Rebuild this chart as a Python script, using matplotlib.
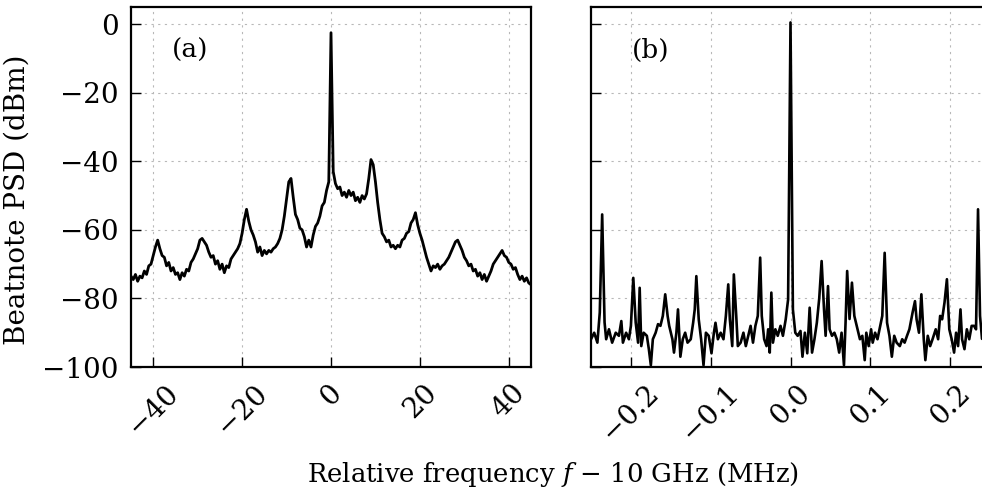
import matplotlib
matplotlib.use("Agg")
import matplotlib.pyplot as plt
import numpy as np

# Panel (a): wide span, 0.5 MHz steps from -45 to 45 MHz
wide_start, wide_stop, wide_step = -45.0, 45.0, 0.5
wide_psd = [
    -73.5, -74.5, -73.0, -75.0, -73.5, -74.0, -72.0, -73.0, -70.5, -70.0,   # -45 .. -40.5
    -67.5, -65.0, -63.0, -65.5, -67.5, -68.0, -70.5, -69.5, -72.0, -71.0,   # -40 .. -35.5
    -73.0, -72.5, -74.5, -72.5, -73.5, -71.5, -72.0, -69.5, -68.5, -67.0,   # -35 .. -30.5
    -65.5, -63.0, -62.5, -63.5, -64.5, -66.5, -68.0, -67.5, -70.0, -69.0,   # -30 .. -25.5
    -71.5, -70.0, -72.5, -70.5, -71.0, -68.5, -67.5, -66.5, -65.5, -64.0,   # -25 .. -20.5
    -61.0, -57.0, -54.0, -57.5, -60.0, -61.5, -63.5, -66.5, -65.0, -67.5,   # -20 .. -15.5
    -66.0, -67.0, -66.0, -66.5, -65.5, -65.0, -64.0, -62.5, -60.0, -56.0,   # -15 .. -10.5
    -51.0, -46.0, -45.0, -50.5, -55.5, -57.0, -59.5, -60.0, -62.0, -65.0,   # -10 .. -5.5
    -63.0, -65.0, -61.5, -59.0, -58.0, -56.0, -53.0, -52.0, -48.5, -46.0,   # -5 .. -0.5
    -2.5,                                                                   # 0
    -43.0, -46.5, -48.0, -47.5, -50.0, -49.0, -50.5, -48.5, -50.0, -49.0,   # 0.5 .. 5
    -51.5, -50.5, -52.0, -50.0, -51.0, -49.5, -45.0, -39.5, -41.0, -46.0,   # 5.5 .. 10
    -52.0, -57.0, -61.0, -62.0, -63.5, -63.0, -65.0, -64.5, -65.5, -64.5,   # 10.5 .. 15
    -65.0, -63.0, -62.5, -61.0, -60.5, -58.0, -57.0, -55.0, -58.5, -61.0,   # 15.5 .. 20
    -63.0, -65.5, -68.0, -70.0, -72.0, -70.5, -71.0, -70.0, -71.5, -70.5,   # 20.5 .. 25
    -70.0, -69.0, -68.0, -66.5, -65.0, -63.5, -63.0, -64.5, -66.0, -68.0,   # 25.5 .. 30
    -69.0, -70.5, -70.0, -72.0, -71.5, -73.5, -72.5, -74.5, -73.0, -75.0,   # 30.5 .. 35
    -73.5, -72.0, -70.0, -69.0, -68.0, -67.0, -66.0, -67.5, -68.0, -69.5,   # 35.5 .. 40
    -70.0, -71.5, -71.0, -73.0, -74.5, -73.5, -75.0, -74.0, -75.5, -76.0,   # 40.5 .. 45
]
wide_freq = np.arange(len(wide_psd)) * wide_step + wide_start

# Panel (b): zoom on the carrier, +-0.25 MHz
narrow_freq = [
    -0.250, -0.246, -0.242, -0.239, -0.236, -0.233, -0.231, -0.2275, -0.2235, -0.219,
    -0.215, -0.212, -0.210, -0.206, -0.2025, -0.200, -0.197, -0.194, -0.191, -0.189,
    -0.187, -0.184, -0.180, -0.1775, -0.175, -0.1725, -0.169, -0.166, -0.163, -0.160,
    -0.157, -0.154, -0.152, -0.148, -0.146, -0.143, -0.141, -0.138, -0.135, -0.132,
    -0.129, -0.125, -0.122, -0.120, -0.118, -0.115, -0.112, -0.109, -0.106, -0.1025,
    -0.099, -0.096, -0.094, -0.091, -0.0875, -0.084, -0.081, -0.078, -0.076, -0.073,
    -0.071, -0.068, -0.066, -0.0625, -0.059, -0.056, -0.053, -0.050, -0.047, -0.044,
    -0.041, -0.038, -0.036, -0.033, -0.030, -0.028, -0.026, -0.024, -0.022, -0.019,
    -0.016, -0.0125, -0.0095, -0.006, -0.003, 0.000, 0.003, 0.006, 0.009, 0.0125,
    0.015, 0.018, 0.021, 0.024, 0.027, 0.030, 0.033, 0.036, 0.039, 0.042,
    0.044, 0.047, 0.049, 0.052, 0.055, 0.058, 0.061, 0.064, 0.067, 0.069,
    0.071, 0.074, 0.077, 0.080, 0.083, 0.087, 0.090, 0.093, 0.095, 0.098,
    0.101, 0.103, 0.106, 0.109, 0.1125, 0.115, 0.118, 0.121, 0.124, 0.127,
    0.130, 0.133, 0.137, 0.140, 0.143, 0.146, 0.149, 0.153, 0.156, 0.158,
    0.161, 0.164, 0.167, 0.169, 0.172, 0.175, 0.178, 0.182, 0.185, 0.1875,
    0.190, 0.193, 0.196, 0.199, 0.202, 0.205, 0.2075, 0.210, 0.213, 0.215,
    0.218, 0.221, 0.224, 0.227, 0.230, 0.2325, 0.235, 0.2375, 0.240, 0.245,
    0.250,
]
narrow_psd = [
    -91.9, -90.0, -92.9, -84.1, -55.5, -87.0, -91.9, -89.0, -92.9, -90.0,
    -90.9, -86.6, -92.9, -90.0, -91.9, -88.0, -74.0, -87.0, -92.9, -76.9,
    -93.9, -90.0, -90.9, -94.8, -99.5, -91.9, -90.0, -87.5, -88.0, -85.1,
    -78.8, -85.1, -88.0, -91.9, -95.8, -90.0, -83.2, -97.0, -91.9, -90.0,
    -92.9, -91.9, -87.1, -83.2, -73.5, -86.1, -91.9, -99.5, -90.0, -90.9,
    -96.0, -90.0, -87.1, -91.9, -90.0, -91.9, -85.1, -75.9, -86.1, -93.9,
    -73.0, -85.1, -93.9, -92.9, -90.0, -93.9, -90.9, -88.0, -92.9, -88.0,
    -85.1, -68.1, -85.1, -91.9, -93.9, -89.0, -95.8, -78.3, -92.9, -89.0,
    -90.9, -88.0, -90.9, -86.1, -80.3, 0.5, -83.2, -90.0, -90.9, -89.5,
    -97.0, -90.0, -96.0, -82.7, -95.8, -91.9, -87.1, -80.0, -69.1, -83.2,
    -90.9, -76.4, -89.0, -90.9, -90.0, -91.9, -95.8, -90.0, -99.5, -87.1,
    -72.0, -86.0, -75.4, -85.1, -88.0, -91.9, -90.9, -98.0, -90.0, -93.9,
    -89.0, -92.9, -90.0, -91.9, -88.0, -85.1, -66.7, -87.1, -90.9, -97.0,
    -90.9, -92.9, -93.9, -91.9, -92.9, -90.9, -89.0, -84.1, -80.8, -86.1,
    -90.0, -78.8, -91.9, -98.0, -90.9, -93.9, -91.9, -89.0, -91.9, -85.1,
    -86.1, -81.2, -74.4, -89.0, -91.9, -95.8, -90.0, -93.9, -83.2, -91.9,
    -94.8, -89.0, -91.9, -88.0, -88.0, -89.0, -54.0, -85.1, -91.8, -90.0,
    -91.0,
]

wide_ticks = [-40, -20, 0, 20, 40]
narrow_ticks = [-0.2, -0.1, 0.0, 0.1, 0.2]
psd_ticks = [-100, -80, -60, -40, -20, 0]

plt.rcParams["font.family"] = ["DejaVu Serif"]
plt.rcParams["mathtext.fontset"] = "dejavuserif"
plt.rcParams["font.size"] = 19

fig = plt.figure(figsize=(9.82, 4.92), dpi=100)
ax_a = fig.add_axes([131 / 982, 125 / 492, 400 / 982, 360 / 492])
ax_b = fig.add_axes([591 / 982, 125 / 492, 399 / 982, 360 / 492], sharey=ax_a)


def style_axes(ax, ticks, labels, xlim):
    ax.set_xlim(*xlim)
    ax.set_ylim(-100, 5)
    ax.set_xticks(ticks)
    ax.set_xticklabels(labels, rotation=45, ha="center")
    ax.set_yticks(psd_ticks)
    ax.tick_params(direction="in", length=7, width=1.0, pad=9, labelsize=20,
                   top=False, right=False)
    ax.grid(True, color="#b8b8b8", linestyle=(0, (2, 4)), linewidth=0.8)
    ax.set_axisbelow(True)
    for sp in ax.spines.values():
        sp.set_linewidth(1.6)


ax_a.plot(wide_freq, wide_psd, color="black", lw=2.0)
style_axes(ax_a, wide_ticks, ["\u221240", "\u221220", "0", "20", "40"], (-45, 45))
ax_a.set_yticklabels(["\u2212100", "\u221280", "\u221260", "\u221240", "\u221220", "0"])
ax_a.set_ylabel("Beatnote PSD (dBm)", fontsize=20)
ax_a.yaxis.set_label_coords(-0.25, 0.464)
ax_a.text(0.102, 0.915, "(a)", transform=ax_a.transAxes, va="top", ha="left")

ax_b.plot(narrow_freq, narrow_psd, color="black", lw=1.9)
style_axes(ax_b, narrow_ticks, ["\u22120.2", "\u22120.1", "0.0", "0.1", "0.2"], (-0.25, 0.25))
ax_b.tick_params(labelleft=False)
ax_b.text(0.102, 0.915, "(b)", transform=ax_b.transAxes, va="top", ha="left")

fig.text(553 / 982, 10 / 492, "Relative frequency $f$ \u2212 10 GHz (MHz)",
         ha="center", va="baseline", fontsize=18.6)

fig.savefig("out.png", dpi=100)
